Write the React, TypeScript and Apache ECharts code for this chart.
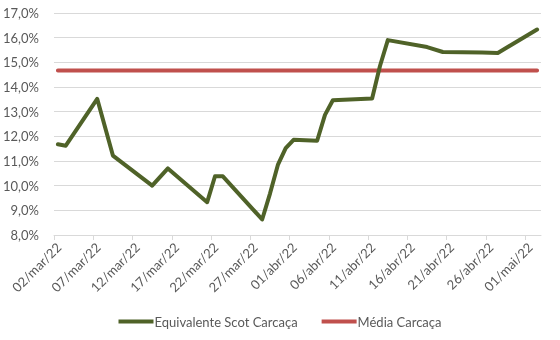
import React, { useEffect, useRef } from "react";
import * as echarts from "echarts";

const dates = [
  "2022-03-02", "2022-03-03", "2022-03-07", "2022-03-09", "2022-03-14",
  "2022-03-16", "2022-03-21", "2022-03-22", "2022-03-23", "2022-03-28",
  "2022-03-29", "2022-03-30", "2022-03-31", "2022-04-01", "2022-04-04",
  "2022-04-05", "2022-04-06", "2022-04-11", "2022-04-12", "2022-04-13",
  "2022-04-18", "2022-04-20", "2022-04-25", "2022-04-27", "2022-05-02",
];
const equivalenteScot = [
  11.68, 11.62, 13.52, 11.22, 10.0,
  10.7, 9.33, 10.38, 10.38, 8.63,
  9.68, 10.84, 11.52, 11.86, 11.82,
  12.87, 13.46, 13.53, 14.85, 15.9,
  15.62, 15.42, 15.4, 15.38, 16.33,
];
const mediaCarcaca = 14.67;
const seriesNames = ["Equivalente Scot Carcaça", "Média Carcaça"];
const monthNames = ["jan", "fev", "mar", "abr", "mai", "jun", "jul", "ago", "set", "out", "nov", "dez"];
const axisStart = "2022-03-02";
const axisDays = 62;
const tickDays = [0, 5, 10, 15, 20, 25, 30, 35, 40, 45, 50, 55, 60];
const yMin = 8;
const yMax = 17;

const DAY = 86400000;
const startMs = Date.parse(axisStart + "T00:00:00Z");
const dayIndex = (d: string) => (Date.parse(d + "T00:00:00Z") - startMs) / DAY;

const fmtDate = (v: number) => {
  const d = new Date(startMs + Math.floor(v) * DAY);
  const dd = String(d.getUTCDate()).padStart(2, "0");
  const yy = String(d.getUTCFullYear()).slice(2);
  return `${dd}/${monthNames[d.getUTCMonth()]}/${yy}`;
};

// labels sit slightly to the right of their tick, as in the reference
const LABEL_SHIFT = 0.6;

export default function App() {
  const ref = useRef<HTMLDivElement>(null);
  useEffect(() => {
    if (!ref.current) return;
    const chart = echarts.init(ref.current, null, { renderer: "svg" });
    const font = "Lato, 'Open Sans', sans-serif";
    const green = dates.map((d, i) => [dayIndex(d) + 0.5, equivalenteScot[i]]);
    const red = dates.map((d) => [dayIndex(d) + 0.5, mediaCarcaca]);
    chart.setOption({
      animation: false,
      textStyle: { fontFamily: font },
      grid: { left: 53, right: 19, top: 13, bottom: 105 },
      legend: {
        bottom: 7,
        left: "center",
        itemWidth: 35,
        itemHeight: 4,
        itemGap: 24,
        icon: "rect",
        data: [
          { name: seriesNames[0], itemStyle: { color: "#4F6228" } },
          { name: seriesNames[1], itemStyle: { color: "#C0504D" } },
        ],
        textStyle: {
          color: "#595959",
          fontSize: 13,
          fontFamily: font,
          padding: [0, 0, 0, -4],
        },
      },
      xAxis: {
        type: "value",
        min: 0,
        max: axisDays,
        splitLine: { show: false },
        axisLine: { show: true, lineStyle: { color: "#d9d9d9", width: 1 } },
        axisTick: {
          show: true,
          customValues: tickDays,
          length: 5,
          inside: false,
          lineStyle: { color: "#d9d9d9" },
        },
        axisLabel: {
          customValues: tickDays.map((t) => t + LABEL_SHIFT),
          rotate: 45,
          margin: 10,
          color: "#595959",
          fontSize: 13,
          fontFamily: font,
          formatter: (v: number) => fmtDate(v),
        },
      },
      yAxis: {
        type: "value",
        min: yMin,
        max: yMax,
        interval: 1,
        axisLine: { show: false },
        axisTick: { show: false },
        splitLine: { lineStyle: { color: "#d9d9d9", width: 1 } },
        axisLabel: {
          margin: 15,
          color: "#595959",
          fontSize: 13,
          fontFamily: font,
          formatter: (v: number) => v.toFixed(1).replace(".", ",") + "%",
        },
      },
      series: [
        {
          name: seriesNames[1],
          type: "line",
          data: red,
          symbol: "none",
          lineStyle: { color: "#C0504D", width: 4, cap: "round" },
          itemStyle: { color: "#C0504D" },
          z: 2,
        },
        {
          name: seriesNames[0],
          type: "line",
          data: green,
          symbol: "none",
          lineStyle: { color: "#4F6228", width: 4, cap: "round", join: "round" },
          itemStyle: { color: "#4F6228" },
          z: 3,
        },
      ],
    });
    return () => chart.dispose();
  }, []);
  return (
    <div
      ref={ref}
      style={{ position: "fixed", left: 0, top: 0, width: 560, height: 340 }}
    />
  );
}
